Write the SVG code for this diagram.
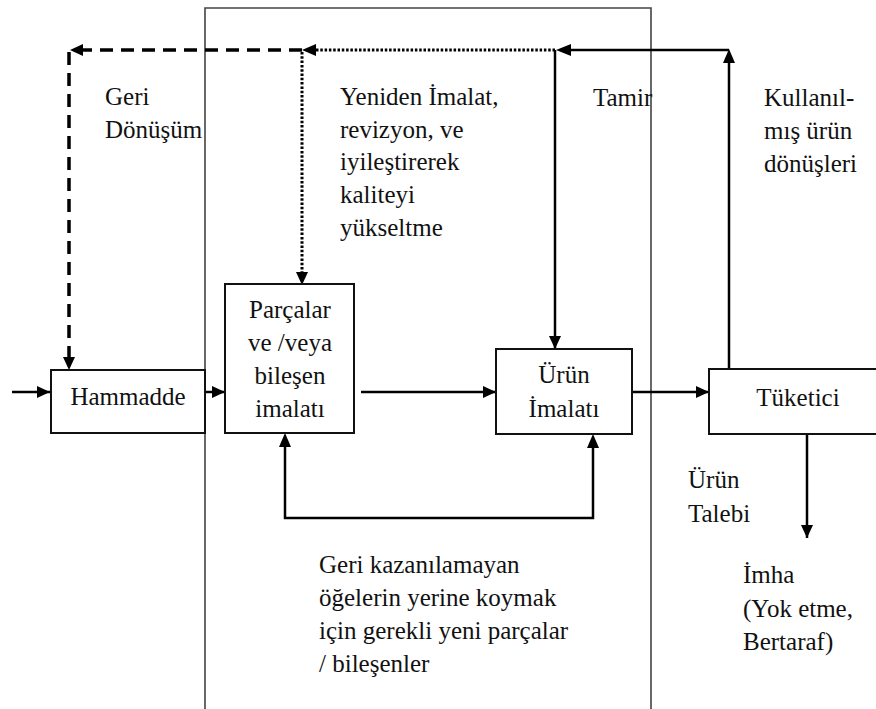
<svg xmlns="http://www.w3.org/2000/svg" width="876" height="709" viewBox="0 0 876 709">
<defs>
<marker id="ah" markerUnits="userSpaceOnUse" markerWidth="14" markerHeight="14" viewBox="0 0 14 14" refX="13" refY="7" orient="auto">
<path d="M0,1 L13,7 L0,13 Z" fill="#000"/>
</marker>
</defs>
<rect width="876" height="709" fill="#fff"/>
<path fill="none" stroke="#444" stroke-width="1.6" d="M205,712 V8 H651 V712"/>
<g id="connectors">
<g fill="none" stroke="#000" stroke-width="3.5" stroke-dasharray="13 8">
<path d="M302,50 H82"/>
<path d="M69,52 V357"/>
</g>
<g fill="none" stroke="#000" stroke-width="3" stroke-dasharray="2.5 1.8">
<path d="M555,50 H315"/>
<path d="M302,52 V272"/>
</g>
<g fill="#000">
<path d="M70,50 L83,44 L83,56 Z"/>
<path d="M69,370 L63,357 L75,357 Z"/>
<path d="M302,50 L316,44 L316,56 Z"/>
<path d="M302,285 L296,272 L308,272 Z"/>
<path d="M729,49 L723,63 L735,63 Z"/>
<path d="M556,50 L571,44 L571,56 Z"/>
<path d="M593,434 L587,448 L599,448 Z"/>
<path d="M285,433 L279,447 L291,447 Z"/>
</g>
<g fill="none" stroke="#000" stroke-width="2.5">
<path d="M729,369 V62"/>
<path d="M729,50 H570"/>
<path d="M555,50 V349" marker-end="url(#ah)"/>
<path d="M12,392 H50" marker-end="url(#ah)"/>
<path d="M206,392 H225" marker-end="url(#ah)"/>
<path d="M361,392 H496" marker-end="url(#ah)"/>
<path d="M632,392 H709" marker-end="url(#ah)"/>
<path d="M593,447 V518 H285 V446"/>
<path d="M807,434 V538" marker-end="url(#ah)"/>
</g>
</g>
<g id="hammadde">
<rect x="51" y="370" width="154" height="63" fill="#fff" stroke="#111" stroke-width="2"/>
<text x="128" y="405" text-anchor="middle" font-family="Liberation Serif, Times New Roman, serif" font-size="25" fill="#111">Hammadde</text>
</g>
<g id="parcalar">
<rect x="225" y="284" width="129" height="149" fill="#fff" stroke="#111" stroke-width="2"/>
<text x="290" y="318" text-anchor="middle" font-family="Liberation Serif, Times New Roman, serif" font-size="25" fill="#111">Parçalar</text>
<text x="290" y="351" text-anchor="middle" font-family="Liberation Serif, Times New Roman, serif" font-size="25" fill="#111">ve /veya</text>
<text x="290" y="384" text-anchor="middle" font-family="Liberation Serif, Times New Roman, serif" font-size="25" fill="#111">bileşen</text>
<text x="290" y="417" text-anchor="middle" font-family="Liberation Serif, Times New Roman, serif" font-size="25" fill="#111">imalatı</text>
</g>
<g id="urun">
<rect x="496" y="349" width="136" height="85" fill="#fff" stroke="#111" stroke-width="2"/>
<text x="564" y="383" text-anchor="middle" font-family="Liberation Serif, Times New Roman, serif" font-size="25" fill="#111">Ürün</text>
<text x="564" y="417" text-anchor="middle" font-family="Liberation Serif, Times New Roman, serif" font-size="25" fill="#111">İmalatı</text>
</g>
<g id="tuketici">
<rect x="709" y="369" width="180" height="65" fill="#fff" stroke="#111" stroke-width="2"/>
<text x="798" y="406" text-anchor="middle" font-family="Liberation Serif, Times New Roman, serif" font-size="25" fill="#111">Tüketici</text>
</g>
<g id="labels">
<text x="105" y="105" font-family="Liberation Serif, Times New Roman, serif" font-size="25" fill="#111">Geri</text>
<text x="105" y="138" font-family="Liberation Serif, Times New Roman, serif" font-size="25" fill="#111">Dönüşüm</text>
<text x="340" y="105" font-family="Liberation Serif, Times New Roman, serif" font-size="25" fill="#111">Yeniden İmalat,</text>
<text x="340" y="138" font-family="Liberation Serif, Times New Roman, serif" font-size="25" fill="#111">revizyon, ve</text>
<text x="340" y="170" font-family="Liberation Serif, Times New Roman, serif" font-size="25" fill="#111">iyileştirerek</text>
<text x="340" y="203" font-family="Liberation Serif, Times New Roman, serif" font-size="25" fill="#111">kaliteyi</text>
<text x="340" y="236" font-family="Liberation Serif, Times New Roman, serif" font-size="25" fill="#111">yükseltme</text>
<text x="593" y="106" font-family="Liberation Serif, Times New Roman, serif" font-size="25" fill="#111">Tamir</text>
<text x="764" y="106" font-family="Liberation Serif, Times New Roman, serif" font-size="25" fill="#111">Kullanıl-</text>
<text x="764" y="139" font-family="Liberation Serif, Times New Roman, serif" font-size="25" fill="#111">mış ürün</text>
<text x="764" y="172" font-family="Liberation Serif, Times New Roman, serif" font-size="25" fill="#111">dönüşleri</text>
<text x="688" y="488" font-family="Liberation Serif, Times New Roman, serif" font-size="25" fill="#111">Ürün</text>
<text x="688" y="522" font-family="Liberation Serif, Times New Roman, serif" font-size="25" fill="#111">Talebi</text>
<text x="743" y="583" font-family="Liberation Serif, Times New Roman, serif" font-size="25" fill="#111">İmha</text>
<text x="743" y="617" font-family="Liberation Serif, Times New Roman, serif" font-size="25" fill="#111">(Yok etme,</text>
<text x="743" y="650" font-family="Liberation Serif, Times New Roman, serif" font-size="25" fill="#111">Bertaraf)</text>
<text x="319" y="573" font-family="Liberation Serif, Times New Roman, serif" font-size="25" fill="#111">Geri kazanılamayan</text>
<text x="319" y="606" font-family="Liberation Serif, Times New Roman, serif" font-size="25" fill="#111">öğelerin yerine koymak</text>
<text x="319" y="639" font-family="Liberation Serif, Times New Roman, serif" font-size="25" fill="#111">için gerekli yeni parçalar</text>
<text x="319" y="672" font-family="Liberation Serif, Times New Roman, serif" font-size="25" fill="#111">/ bileşenler</text>
</g>
</svg>
